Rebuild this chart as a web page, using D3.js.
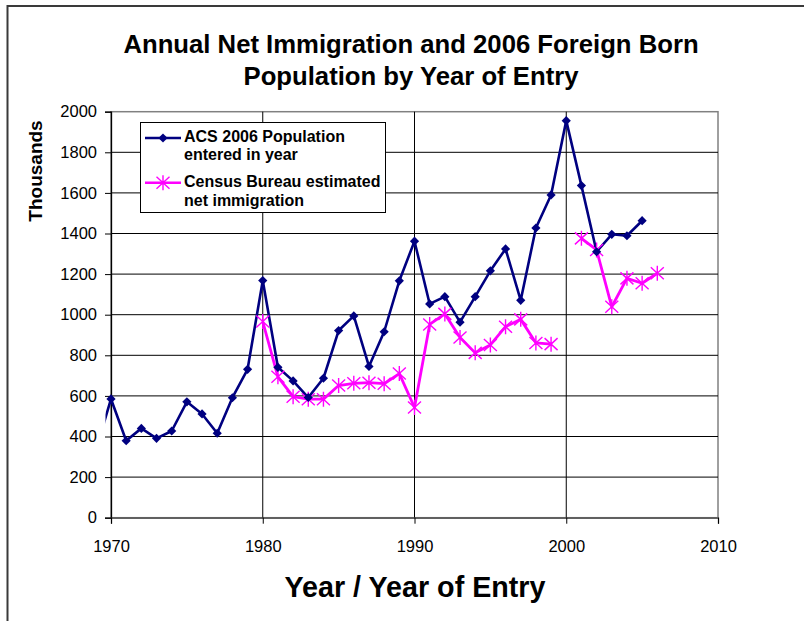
<!DOCTYPE html>
<html>
<head>
<meta charset="utf-8">
<script src="https://cdn.jsdelivr.net/npm/d3@7"></script>
<style>
  html, body { margin: 0; padding: 0; background: #fff; }
  svg { display: block; font-family: "Liberation Sans", Arial, sans-serif; }
</style>
</head>
<body>
<svg id="chart" width="804" height="621"></svg>
<script>
// ---- data ----
const acsYears = [1969, 1970, 1971, 1972, 1973, 1974, 1975, 1976, 1977, 1978, 1979,
  1980, 1981, 1982, 1983, 1984, 1985, 1986, 1987, 1988, 1989,
  1990, 1991, 1992, 1993, 1994, 1995, 1996, 1997, 1998, 1999,
  2000, 2001, 2002, 2003, 2004, 2005];
const acsValues = [330, 585, 379, 440, 391, 427, 571, 511, 416, 591, 731,
  1168, 741, 674, 592, 687, 922, 994, 745, 916, 1167,
  1362, 1053, 1089, 963, 1089, 1216, 1324, 1071, 1427, 1590,
  1956, 1636, 1310, 1396, 1389, 1463];

const censusYears = [1980, 1981, 1982, 1983, 1984, 1985, 1986, 1987, 1988, 1989,
  1990, 1991, 1992, 1993, 1994, 1995, 1996, 1997, 1998, 1999,
  2000, 2001, 2002, 2003, 2004, 2005, 2006];
const censusValues = [966, 694, 596, 584, 584, 651, 662, 665, 660, 710,
  543, 952, 1004, 888, 812, 851, 941, 977, 861, 855,
  null, 1376, 1319, 1039, 1179, 1155, 1204];

const xTicks = [1970, 1980, 1990, 2000, 2010];
const yTicks = [0, 200, 400, 600, 800, 1000, 1200, 1400, 1600, 1800, 2000];

const titleLines = ["Annual Net Immigration and 2006 Foreign Born", "Population by Year of Entry"];
const xTitle = "Year / Year of Entry";
const yTitle = "Thousands";
const legendLabels = [["ACS 2006 Population", "entered in year"], ["Census Bureau estimated", "net immigration"]];

// ---- layout ----
const svg = d3.select("#chart");
const L = 111, R = 718, T = 111.7, B = 517.7;
const x = d3.scaleLinear().domain([1970, 2010]).range([L, R]);
const y = d3.scaleLinear().domain([0, 2000]).range([B, T]);
const blue = "#000080", pink = "#FF00FF";

// outer frame
svg.append("rect").attr("x", 7.5).attr("y", 6).attr("width", 1000).attr("height", 1000)
  .attr("fill", "none").attr("stroke", "#3a3a3a").attr("stroke-width", 2);

// title
svg.append("g").selectAll("text").data(titleLines).join("text")
  .attr("x", 411).attr("y", (d, i) => 53 + i * 31.5)
  .attr("text-anchor", "middle").attr("font-weight", "bold").attr("font-size", 25.7)
  .attr("fill", "#000").text(d => d);

// plot frame
svg.append("rect").attr("x", L).attr("y", T).attr("width", R - L).attr("height", B - T)
  .attr("fill", "#fff").attr("stroke", "#808080").attr("stroke-width", 1.5);

// horizontal gridlines
svg.append("g").selectAll("line").data(yTicks.filter(v => v > 0 && v < 2000)).join("line")
  .attr("x1", L).attr("x2", R).attr("y1", d => y(d)).attr("y2", d => y(d))
  .attr("stroke", "#000").attr("stroke-width", 1);
// vertical gridlines
svg.append("g").selectAll("line").data(xTicks.filter(v => v > 1970 && v < 2010)).join("line")
  .attr("x1", d => x(d)).attr("x2", d => x(d)).attr("y1", T).attr("y2", B)
  .attr("stroke", "#000").attr("stroke-width", 1);

// axes
const yAxis = svg.append("g").attr("transform", `translate(${L},0)`)
  .call(d3.axisLeft(y).tickValues(yTicks).tickSize(6).tickPadding(8).tickFormat(d3.format("d")));
const xAxis = svg.append("g").attr("transform", `translate(0,${B})`)
  .call(d3.axisBottom(x).tickValues(xTicks).tickSize(6).tickPadding(17).tickFormat(d3.format("d")));
[yAxis, xAxis].forEach(a => {
  a.select(".domain").attr("stroke", "#000").attr("stroke-width", 1.3);
  a.selectAll(".tick line").attr("stroke", "#000");
  a.selectAll("text").attr("font-size", 16.5).attr("fill", "#000")
    .attr("font-family", "'Liberation Sans', Arial, sans-serif");
});
xAxis.select(".domain").attr("stroke", "#404040");

// axis titles
svg.append("text").attr("x", 415).attr("y", 597).attr("text-anchor", "middle")
  .attr("font-weight", "bold").attr("font-size", 28.7).text(xTitle);
svg.append("text").attr("transform", "translate(42,171) rotate(-90)").attr("text-anchor", "middle")
  .attr("font-weight", "bold").attr("font-size", 19).text(yTitle);

// clip
svg.append("clipPath").attr("id", "clip").append("rect")
  .attr("x", 105.5).attr("y", 100).attr("width", 640).attr("height", 430);

const acs = acsYears.map((yr, i) => ({ yr, v: acsValues[i] }));
const census = censusYears.map((yr, i) => ({ yr, v: censusValues[i] }));

const line = d3.line().defined(d => d.v != null).x(d => x(d.yr)).y(d => y(d.v));
const plot = svg.append("g").attr("clip-path", "url(#clip)");

plot.append("path").datum(census).attr("d", line).attr("fill", "none")
  .attr("stroke", pink).attr("stroke-width", 2.8).attr("stroke-linejoin", "round");
plot.append("path").datum(acs).attr("d", line).attr("fill", "none")
  .attr("stroke", blue).attr("stroke-width", 2.6).attr("stroke-linejoin", "round");

const diamond = "M0,-4.6L4.6,0L0,4.6L-4.6,0Z";
const star = "M-6.5,-6L6.5,6M-6.5,6L6.5,-6M0,-7.5L0,7.5";

plot.append("g").selectAll("path").data(census.filter(d => d.v != null)).join("path")
  .attr("transform", d => `translate(${x(d.yr)},${y(d.v)})`)
  .attr("d", star).attr("stroke", pink).attr("stroke-width", 1.4).attr("fill", "none");
plot.append("g").selectAll("path").data(acs).join("path")
  .attr("transform", d => `translate(${x(d.yr)},${y(d.v)})`)
  .attr("d", diamond).attr("fill", blue);

// legend
const lg = svg.append("g");
lg.append("rect").attr("x", 140.5).attr("y", 122.5).attr("width", 245).attr("height", 90)
  .attr("fill", "#fff").attr("stroke", "#000").attr("stroke-width", 1);
const legendItems = [
  { color: blue, marker: diamond, fill: blue, stroke: "none", sy: 138, ty: 141.7 },
  { color: pink, marker: star, fill: "none", stroke: pink, sy: 182.7, ty: 187.3 }
];
legendItems.forEach((it, i) => {
  lg.append("line").attr("x1", 145).attr("x2", 181).attr("y1", it.sy).attr("y2", it.sy)
    .attr("stroke", it.color).attr("stroke-width", 2.6);
  lg.append("path").attr("transform", `translate(163,${it.sy})`).attr("d", it.marker)
    .attr("fill", it.fill).attr("stroke", it.stroke).attr("stroke-width", 1.4);
  lg.append("g").selectAll("text").data(legendLabels[i]).join("text")
    .attr("x", 184).attr("y", (d, j) => it.ty + j * 18.3)
    .attr("font-weight", "bold").attr("font-size", 16).text(d => d);
});
</script>
</body>
</html>
